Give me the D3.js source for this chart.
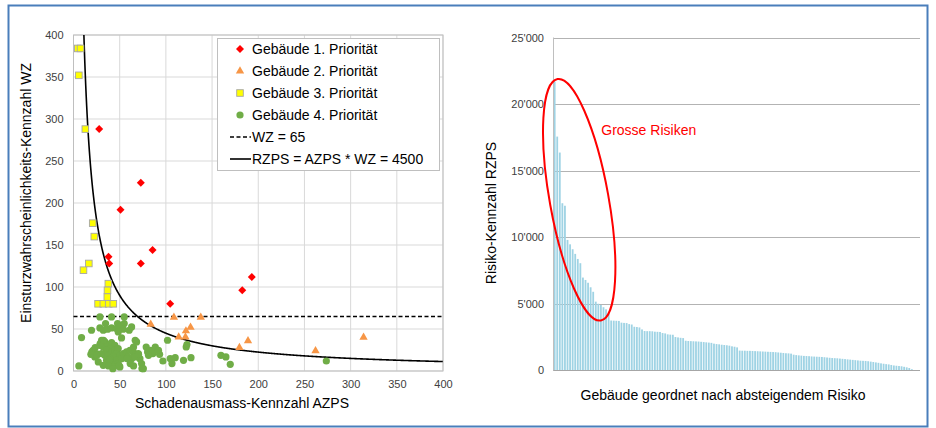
<!DOCTYPE html>
<html>
<head>
<meta charset="utf-8">
<script src="https://cdn.jsdelivr.net/npm/d3@7"></script>
<style>
  body { margin: 0; background: #fff; }
  svg text { font-family: "Liberation Sans", Arial, sans-serif; }
</style>
</head>
<body>
<div id="plot"></div>
<script>
// --- data ---
const prio1 = [[27.8,288],[72.9,224],[50.9,192],[85.6,144],[37.9,136],[38.6,128],[72.9,128],[104.7,80],[182.7,96],[193,112]];
const prio2 = [[83.6,55.6],[108.7,64],[137.8,64],[113.9,40.5],[121.2,40.5],[121.7,47.7],[126.7,52],[179.6,28],[188.9,36],[262,24],[314,40]];
const prio3 = [[4.7,384],[7.6,384],[5.8,352],[12.8,288],[20.8,176],[22.5,160],[16.6,128],[10.8,120],[37.7,104],[36.8,96],[36.6,88],[26.6,80],[32.3,80],[38.1,80],[43.1,80]];
const prio4 = [
  [28.6,64.4],[41.2,64.4],[54.9,64.4],[34.7,56.4],[47.7,56.4],[54.9,56.4],
  [19.5,48.5],[8.7,39.8],[28.6,51.3],[32.2,48.5],[36.9,49.7],[41.2,51.3],[46.6,50.5],[50.2,52.5],[53.8,49.7],[48.4,46.5],[52,39.4],[60.3,48.5],[62.9,52.5],
  [30.4,36.6],[34,34.6],[28.6,30.6],[32.2,28.6],[37.6,31.4],[41.2,33.8],[44.8,30.6],[39.4,26.7],[35.8,24.7],[21.3,24.7],[24.9,20.7],[23.1,16.7],
  [30.4,20.7],[34,18.7],[37.6,18.7],[41.2,22.7],[44.8,24.7],[48.4,26.7],[46.6,20.7],[50.2,18.7],[43,16.7],[39.4,14.7],[35.8,12.7],[37.6,8.8],
  [43,10.8],[46.6,12.7],[48.4,8.8],[50.2,4.8],[43,4.8],[52,14.7],[53.8,20.7],[57.4,22.7],[61.1,24.7],[64.7,22.7],[68.3,34.6],[66.5,18.7],
  [70.1,20.7],[62.9,14.7],[71.9,14.7],[59.2,16.7],[73.7,8.8],[75.5,2.8],[5.8,6],[26.8,10.8],[32.2,6.8],
  [19.9,22.7],[18.8,19.9],[25.3,18.7],[23.5,27.9],[28.9,32.6],[32.5,36.6],[39,12.7],[43.3,4.8],[57.8,14.8],[61.4,8.8],[66.8,16.7],
  [70.4,19.9],[74.1,2.9],[65,28.6],[66.8,36.6],[49.5,6],[65,6],[37.9,6],[42.6,2.8],
  [78.7,28.6],[83.1,24.7],[88.5,28.6],[80.2,22.7],[86,20.7],[93.2,19.9],[96.8,11.9],[101.8,36.6],[104.7,14.8],[106.6,8.8],[110.1,15.9],
  [119.1,12.7],[122,28.6],[122.8,31.5],[127.2,15.9],[159.6,18.7],[165,16.7],[169.7,8],[273.7,11.9],[75.2,2.9],[84.9,22.7],[92,24.7],[81.2,18.7]
];
const wzLimit = 65;
const riskLimit = 4500;
const scatterTicks = [0, 50, 100, 150, 200, 250, 300, 350, 400];
const legendLabels = ["Gebäude 1. Priorität", "Gebäude 2. Priorität", "Gebäude 3. Priorität", "Gebäude 4. Priorität", "WZ = 65", "RZPS = AZPS * WZ = 4500"];

// RZPS per building, sorted descending
const risk = [
  21700, 17550, 16350, 12540, 12350, 9780, 9450, 9080, 8730, 8350,
  8030, 6950, 6770, 6560, 6220, 5880, 5140, 4980, 4890, 4720,
  4560, 4300, 3720, 3710, 3700, 3690, 3560, 3540, 3530, 3450,
  3420, 3250, 3230, 3200, 3050, 2930, 2920, 2920, 2910, 2880,
  2870, 2860, 2780, 2750, 2680, 2660, 2650, 2480, 2450, 2420,
  2400, 2200, 2180, 2170, 2160, 2150, 2140, 2120, 2100, 2080,
  2060, 2040, 1980, 1950, 1930, 1900, 1880, 1860, 1830, 1780,
  1750, 1700, 1460, 1450, 1450, 1440, 1440, 1430, 1420, 1410,
  1400, 1390, 1380, 1370, 1360, 1350, 1340, 1320, 1300, 1280,
  1260, 1250, 1230, 1150, 1120, 1100, 1080, 1060, 1050, 1040,
  1020, 1010, 1000, 990, 980, 960, 940, 920, 900, 890,
  880, 860, 840, 820, 800, 780, 760, 740, 720, 700,
  690, 680, 660, 630, 600, 570, 540, 500, 470, 440,
  420, 380, 340, 320, 300, 280, 240, 200, 150, 60
];
const riskTicks = [0, 5000, 10000, 15000, 20000, 25000];

const w = 936, h = 428;
const font = "'Liberation Sans', Arial, sans-serif";

const svg = d3.select("#plot").append("svg")
  .attr("width", w)
  .attr("height", h);

// outer frame
svg.append("rect")
  .attr("x", 8.5).attr("y", 5.5)
  .attr("width", 919).attr("height", 421)
  .attr("fill", "white")
  .attr("stroke", "#4a7ebb")
  .attr("stroke-width", 2);

// ===== left: scatter =====
const xScale = d3.scaleLinear().domain([0, 400]).range([73.5, 443]);
const yScale = d3.scaleLinear().domain([0, 400]).range([371, 35]);

const left = svg.append("g");

// gridlines
left.append("g").selectAll("line.v")
  .data(scatterTicks)
  .join("line")
  .attr("x1", d => xScale(d)).attr("x2", d => xScale(d))
  .attr("y1", yScale(0)).attr("y2", yScale(400))
  .attr("stroke", "#d9d9d9");
left.append("g").selectAll("line.h")
  .data(scatterTicks)
  .join("line")
  .attr("x1", xScale(0)).attr("x2", xScale(400))
  .attr("y1", d => yScale(d)).attr("y2", d => yScale(d))
  .attr("stroke", "#d9d9d9");

left.append("rect")
  .attr("x", xScale(0)).attr("y", yScale(400))
  .attr("width", xScale(400) - xScale(0))
  .attr("height", yScale(0) - yScale(400))
  .attr("fill", "none")
  .attr("stroke", "#bfbfbf");

// axes labels
const xAxis = d3.axisBottom(xScale).tickValues(scatterTicks).tickSize(0).tickPadding(9);
const yAxis = d3.axisLeft(yScale).tickValues(scatterTicks).tickSize(0).tickPadding(10);

left.append("g")
  .attr("transform", `translate(0, ${yScale(0)})`)
  .call(xAxis)
  .call(g => g.select(".domain").remove())
  .selectAll("text")
  .style("font-size", "11px")
  .style("font-family", font)
  .attr("fill", "#404040");

left.append("g")
  .attr("transform", `translate(${xScale(0)}, 0)`)
  .call(yAxis)
  .call(g => g.select(".domain").remove())
  .selectAll("text")
  .style("font-size", "11px")
  .style("font-family", font)
  .attr("fill", "#404040");

// axis titles
left.append("text")
  .attr("x", 242)
  .attr("y", 408)
  .attr("text-anchor", "middle")
  .style("font-size", "14px")
  .attr("fill", "#000")
  .text("Schadenausmass-Kennzahl AZPS");

left.append("text")
  .attr("transform", "translate(31, 193) rotate(-90)")
  .attr("text-anchor", "middle")
  .style("font-size", "14px")
  .attr("fill", "#000")
  .text("Einsturzwahrscheinlichkeits-Kennzahl WZ");

// WZ = 65 dashed line
left.append("line")
  .attr("x1", xScale(0)).attr("x2", xScale(400))
  .attr("y1", yScale(wzLimit)).attr("y2", yScale(wzLimit))
  .attr("stroke", "#000")
  .attr("stroke-width", 1.5)
  .attr("stroke-dasharray", "4,2.5");

// RZPS = 4500 curve
const curvePts = d3.range(riskLimit / 400, 400.01, 0.5).map(x => [x, riskLimit / x]);
left.append("path")
  .datum(curvePts)
  .attr("fill", "none")
  .attr("stroke", "#000")
  .attr("stroke-width", 1.6)
  .attr("d", d3.line().x(d => xScale(d[0])).y(d => yScale(d[1])).curve(d3.curveMonotoneX));

// markers
left.append("g").selectAll("circle")
  .data(prio4)
  .join("circle")
  .attr("cx", d => xScale(d[0]))
  .attr("cy", d => yScale(d[1]))
  .attr("r", 3.6)
  .attr("fill", "#70ad47");

left.append("g").selectAll("rect")
  .data(prio3)
  .join("rect")
  .attr("x", d => xScale(d[0]) - 3.3)
  .attr("y", d => yScale(d[1]) - 3.3)
  .attr("width", 6.6).attr("height", 6.6)
  .attr("fill", "#ffff00")
  .attr("stroke", "#a6a6a6")
  .attr("stroke-width", 0.9);

left.append("g").selectAll("path")
  .data(prio2)
  .join("path")
  .attr("transform", d => `translate(${xScale(d[0])}, ${yScale(d[1])})`)
  .attr("d", d3.symbol().type(d3.symbolTriangle).size(30)())
  .attr("fill", "#f79646");

left.append("g").selectAll("path")
  .data(prio1)
  .join("path")
  .attr("transform", d => `translate(${xScale(d[0])}, ${yScale(d[1])}) rotate(45)`)
  .attr("d", d3.symbol().type(d3.symbolSquare).size(32)())
  .attr("fill", "#ff0000");

// legend
const legend = left.append("g");
legend.append("rect")
  .attr("x", 217.5).attr("y", 38.5)
  .attr("width", 222).attr("height", 132)
  .attr("fill", "white")
  .attr("stroke", "#bfbfbf");

const rowY = i => 49 + i * 22;
legendLabels.forEach((lab, i) => {
  legend.append("text")
    .attr("x", 252)
    .attr("y", rowY(i) + 5)
    .style("font-size", "14px")
    .attr("fill", "#000")
    .text(lab);
});
legend.append("path")
  .attr("transform", `translate(240, ${rowY(0)}) rotate(45)`)
  .attr("d", d3.symbol().type(d3.symbolSquare).size(32)())
  .attr("fill", "#ff0000");
legend.append("path")
  .attr("transform", `translate(240, ${rowY(1)})`)
  .attr("d", d3.symbol().type(d3.symbolTriangle).size(30)())
  .attr("fill", "#f79646");
legend.append("rect")
  .attr("x", 236.7).attr("y", rowY(2) - 3.3)
  .attr("width", 6.6).attr("height", 6.6)
  .attr("fill", "#ffff00")
  .attr("stroke", "#a6a6a6")
  .attr("stroke-width", 0.9);
legend.append("circle")
  .attr("cx", 240).attr("cy", rowY(3))
  .attr("r", 3.6)
  .attr("fill", "#70ad47");
legend.append("line")
  .attr("x1", 230).attr("x2", 251)
  .attr("y1", rowY(4)).attr("y2", rowY(4))
  .attr("stroke", "#000").attr("stroke-width", 1.5)
  .attr("stroke-dasharray", "4,2.5");
legend.append("line")
  .attr("x1", 230).attr("x2", 251)
  .attr("y1", rowY(5)).attr("y2", rowY(5))
  .attr("stroke", "#000").attr("stroke-width", 1.6);

// ===== right: sorted risk bars =====
const xBand = d3.scaleBand()
  .domain(d3.range(risk.length))
  .range([553.5, 913])
  .paddingInner(0.3)
  .paddingOuter(0.1);
const yRisk = d3.scaleLinear().domain([0, 25000]).range([370, 37.5]);
const rightEdge = 920;

const right = svg.append("g");

right.append("g").selectAll("line")
  .data(riskTicks.filter(d => d > 0))
  .join("line")
  .attr("x1", 553).attr("x2", rightEdge)
  .attr("y1", d => Math.round(yRisk(d)) + 0.5)
  .attr("y2", d => Math.round(yRisk(d)) + 0.5)
  .attr("stroke", "#b3b3b3");

right.append("g").selectAll("rect")
  .data(risk)
  .join("rect")
  .attr("x", (d, i) => xBand(i))
  .attr("y", d => yRisk(d))
  .attr("width", xBand.bandwidth())
  .attr("height", d => yRisk(0) - yRisk(d))
  .attr("fill", "#9fd3e4");

// axis lines
right.append("line")
  .attr("x1", 553).attr("x2", rightEdge)
  .attr("y1", 370.5).attr("y2", 370.5)
  .attr("stroke", "#a6a6a6");
right.append("line")
  .attr("x1", 553.5).attr("x2", 553.5)
  .attr("y1", yRisk(25000)).attr("y2", 370.5)
  .attr("stroke", "#bfbfbf");

const riskAxis = d3.axisLeft(yRisk)
  .tickValues(riskTicks)
  .tickSize(0)
  .tickPadding(9)
  .tickFormat(d => d3.format(",")(d).replace(/,/g, "'"));

right.append("g")
  .attr("transform", "translate(553, 0)")
  .call(riskAxis)
  .call(g => g.select(".domain").remove())
  .selectAll("text")
  .style("font-size", "11px")
  .style("font-family", font)
  .attr("fill", "#404040");

right.append("text")
  .attr("transform", "translate(496, 213) rotate(-90)")
  .attr("text-anchor", "middle")
  .style("font-size", "14px")
  .attr("fill", "#000")
  .text("Risiko-Kennzahl RZPS");

right.append("text")
  .attr("x", 723)
  .attr("y", 400)
  .attr("text-anchor", "middle")
  .style("font-size", "14px")
  .attr("fill", "#000")
  .text("Gebäude geordnet nach absteigendem Risiko");

// annotation: ellipse round the biggest risks
const step = xBand.step();
const ellCx = xBand(0) + 9.9 * step;
const ellCy = yRisk(12800);
right.append("ellipse")
  .attr("transform", `translate(${ellCx}, ${ellCy}) rotate(-10.2)`)
  .attr("rx", 29.4)
  .attr("ry", 122.6)
  .attr("fill", "none")
  .attr("stroke", "#ff0000")
  .attr("stroke-width", 2);

right.append("text")
  .attr("x", xBand(0) + 18.5 * step)
  .attr("y", yRisk(17680))
  .style("font-size", "14px")
  .attr("fill", "#ff0000")
  .text("Grosse Risiken");
</script>
</body>
</html>
